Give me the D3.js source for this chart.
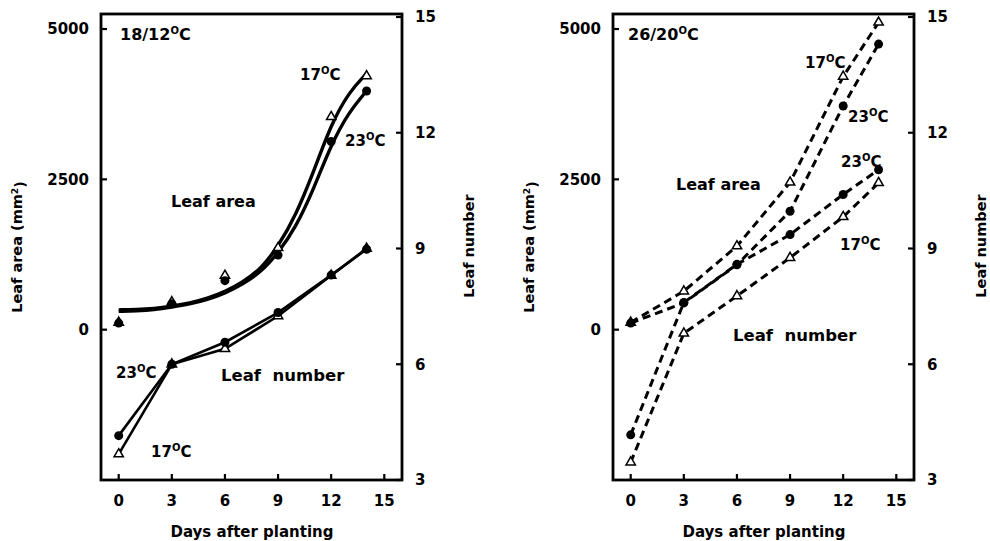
<!DOCTYPE html>
<html>
<head>
<meta charset="utf-8">
<script src="https://cdn.jsdelivr.net/npm/d3@7"></script>
<style>
  body { margin: 0; background: #fff; }
  text { font-family: "DejaVu Sans", sans-serif; font-weight: bold; fill: #000; }
</style>
</head>
<body>
<svg id="chart" width="990" height="541"></svg>
<script>
// sampling days of the measured points
const days = [0, 3, 6, 9, 12, 14];

// 18/12 C panel
const coolArea17 = [120, 460, 900, 1360, 3540, 4220];
const coolArea23 = [110, 430, 815, 1240, 3130, 3970];
const coolNum17 = [3.67, 6.0, 6.4, 7.25, 8.3, 9.0];
const coolNum23 = [4.15, 6.0, 6.57, 7.34, 8.31, 8.98];
// fitted curves
const fitDays = [0, 1, 2, 3, 4, 5, 6, 7, 8, 9, 10, 11, 12, 13, 14];
const coolFit17 = [330, 335, 350, 390, 440, 520, 630, 790, 1000, 1380, 1900, 2620, 3420, 3950, 4260];
const coolFit23 = [305, 312, 330, 375, 425, 500, 605, 755, 950, 1270, 1700, 2330, 3080, 3620, 3970];

// 26/20 C panel
const warmArea17 = [120, 640, 1390, 2450, 4210, 5110];
const warmArea23 = [110, 445, 1080, 1970, 3720, 4750];
const warmNum17 = [3.46, 6.8, 7.77, 8.76, 9.82, 10.7];
const warmNum23 = [4.17, 7.6, 8.59, 9.36, 10.4, 11.04];

const xTicks = [0, 3, 6, 9, 12, 15];
const areaTicks = [0, 2500, 5000];
const numTicks = [3, 6, 9, 12, 15];

const svg = d3.select('#chart');
const W = 301, plotTop = 17, plotBottom = 480;

function label(g, x, y, size, main, sup, tail) {
  const t = g.append('text').attr('x', x).attr('y', y)
    .style('font-size', size + 'px').style('white-space', 'pre').text(main);
  if (sup) {
    t.append('tspan').attr('dy', -6).style('font-size', '10px').text(sup);
    t.append('tspan').attr('dy', 6).style('font-size', size + 'px').text(tail);
  }
}

function panel(cfg) {
  const x0 = cfg.left;
  const x = d3.scaleLinear().domain([-1, 16]).range([x0, x0 + W]);
  const yA = d3.scaleLinear().domain([-2500, 5200]).range([plotBottom, plotTop]);
  const yN = d3.scaleLinear().domain([3, 15]).range([plotBottom, plotTop]);
  const g = svg.append('g');

  // frame
  g.append('rect')
    .attr('x', x0).attr('y', yA(5250))
    .attr('width', W).attr('height', plotBottom - yA(5250))
    .attr('fill', 'none').attr('stroke', '#000').attr('stroke-width', 2.8);

  // ticks
  g.selectAll('.xt').data(xTicks).enter().append('line')
    .attr('x1', d => x(d)).attr('x2', d => x(d))
    .attr('y1', plotBottom).attr('y2', plotBottom - 6)
    .attr('stroke', '#000').attr('stroke-width', 2.2);
  g.selectAll('.xl').data(xTicks).enter().append('text')
    .attr('x', d => x(d)).attr('y', 506)
    .attr('text-anchor', 'middle').style('font-size', '15px')
    .text(d => d);

  g.selectAll('.at').data(areaTicks).enter().append('line')
    .attr('x1', x0).attr('x2', x0 + 6)
    .attr('y1', d => yA(d)).attr('y2', d => yA(d))
    .attr('stroke', '#000').attr('stroke-width', 2.2);
  g.selectAll('.al').data(areaTicks).enter().append('text')
    .attr('x', x0 - 12).attr('y', d => yA(d)).attr('dy', '0.36em')
    .attr('text-anchor', 'end').style('font-size', '15px')
    .text(d => d);

  g.selectAll('.nt').data(numTicks).enter().append('line')
    .attr('x1', x0 + W).attr('x2', x0 + W - 6)
    .attr('y1', d => yN(d)).attr('y2', d => yN(d))
    .attr('stroke', '#000').attr('stroke-width', 2.2);
  g.selectAll('.nl').data(numTicks).enter().append('text')
    .attr('x', x0 + W + 13).attr('y', d => yN(d)).attr('dy', '0.36em')
    .style('font-size', '15px')
    .text(d => d);

  // axis titles
  g.append('text')
    .attr('transform', `translate(${x0 - 84},247) rotate(-90)`)
    .attr('dy', '0.36em').attr('text-anchor', 'middle').style('font-size', '14.5px')
    .text('Leaf area (mm')
    .call(t => {
      t.append('tspan').attr('dy', '-0.45em').style('font-size', '9px').text('2');
      t.append('tspan').attr('dy', '0.45em').text(')');
    });
  g.append('text')
    .attr('transform', `translate(${x0 + W + 67},246) rotate(-90)`)
    .attr('dy', '0.36em').attr('text-anchor', 'middle').style('font-size', '14.5px')
    .text('Leaf number');
  g.append('text')
    .attr('x', x0 + 151).attr('y', 537)
    .attr('text-anchor', 'middle').style('font-size', '15px')
    .text('Days after planting');

  const lineA = d3.line().x((d, i) => x(days[i])).y(d => yA(d));
  const lineN = d3.line().x((d, i) => x(days[i])).y(d => yN(d));

  if (cfg.dashed) {
    [cfg.area17, cfg.area23].forEach(s => g.append('path').attr('d', lineA(s))
      .attr('fill', 'none').attr('stroke', '#000').attr('stroke-width', 3)
      .attr('stroke-dasharray', '8,5'));
    [cfg.num17, cfg.num23].forEach(s => g.append('path').attr('d', lineN(s))
      .attr('fill', 'none').attr('stroke', '#000').attr('stroke-width', 3)
      .attr('stroke-dasharray', '8,5'));
  } else {
    const fit = d3.line().curve(d3.curveBasis)
      .x((d, i) => x(fitDays[i])).y(d => yA(d));
    [cfg.fit17, cfg.fit23].forEach(s => g.append('path').attr('d', fit(s))
      .attr('fill', 'none').attr('stroke', '#000').attr('stroke-width', 3.4));
    [cfg.num17, cfg.num23].forEach(s => g.append('path').attr('d', lineN(s))
      .attr('fill', 'none').attr('stroke', '#000').attr('stroke-width', 2.6));
  }

  const tri = d3.symbol().type(d3.symbolTriangle).size(38);
  function circles(s, y) {
    g.selectAll(null).data(s).enter().append('circle')
      .attr('cx', (d, i) => x(days[i])).attr('cy', d => y(d))
      .attr('r', 4.5).attr('fill', '#000');
  }
  function triangles(s, y) {
    g.selectAll(null).data(s).enter().append('path')
      .attr('d', tri)
      .attr('transform', (d, i) => `translate(${x(days[i])},${y(d)})`)
      .attr('fill', '#fff').attr('stroke', '#000').attr('stroke-width', 1.5);
  }
  triangles(cfg.area17, yA);
  circles(cfg.area23, yA);
  triangles(cfg.num17, yN);
  circles(cfg.num23, yN);

  cfg.labels.forEach(l => label(g, x0 + l[0], l[1], l[2], l[3], l[4], l[5]));
}

panel({
  left: 101, dashed: false,
  area17: coolArea17, area23: coolArea23, num17: coolNum17, num23: coolNum23,
  fit17: coolFit17, fit23: coolFit23,
  labels: [
    [19, 40, 16, '18/12', 'O', 'C'],
    [199, 80, 15, '17', 'O', 'C'],
    [244, 146, 15, '23', 'O', 'C'],
    [70, 207, 16, 'Leaf area'],
    [15, 378, 15, '23', 'O', 'C'],
    [120, 381, 16.5, 'Leaf  number'],
    [50, 457, 15, '17', 'O', 'C']
  ]
});

panel({
  left: 613, dashed: true,
  area17: warmArea17, area23: warmArea23, num17: warmNum17, num23: warmNum23,
  labels: [
    [15, 40, 16, '26/20', 'O', 'C'],
    [192, 68, 15, '17', 'O', 'C'],
    [235, 122, 15, '23', 'O', 'C'],
    [228, 167, 15, '23', 'O', 'C'],
    [63, 190, 16, 'Leaf area'],
    [227, 250, 15, '17', 'O', 'C'],
    [120, 341, 16.5, 'Leaf  number']
  ]
});
</script>
</body>
</html>
